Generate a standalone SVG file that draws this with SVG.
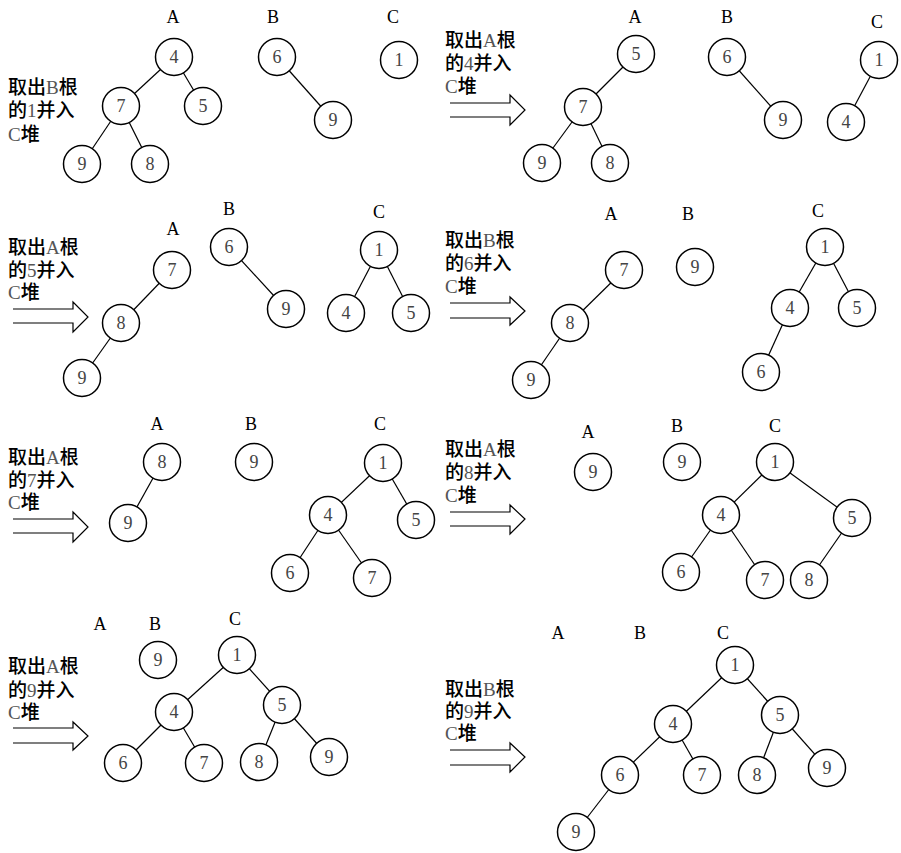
<svg xmlns="http://www.w3.org/2000/svg" width="901" height="853" viewBox="0 0 901 853">
<style>
.n circle{fill:#fff;stroke:#000;stroke-width:1.5}
.n text{font-family:'Liberation Serif','Times New Roman','DejaVu Serif','Noto Serif',serif;font-size:18px;fill:#444;text-anchor:middle}
.lbl{font-family:'Liberation Serif','Times New Roman','DejaVu Serif','Noto Serif',serif;font-size:18px;fill:#000;text-anchor:middle}
.cap{font-family:'Noto Sans CJK SC','Noto Sans',sans-serif;font-size:19px;fill:#000;font-weight:500}
.cap tspan.l{font-family:'Liberation Serif','Times New Roman','DejaVu Serif',serif;fill:#555;font-weight:normal}
#edges line{stroke:#000;stroke-width:1.2}
.arr{fill:none;stroke:#000;stroke-width:1.2}
</style>
<rect width="901" height="853" fill="#fff"/>
<g id="edges">
<line x1="174" y1="57" x2="121" y2="106"/><line x1="174" y1="57" x2="203" y2="106"/>
<line x1="121" y1="106" x2="82" y2="164"/><line x1="121" y1="106" x2="150" y2="164"/>
<line x1="277" y1="57" x2="333" y2="120"/>
<line x1="636" y1="54" x2="583" y2="107"/><line x1="583" y1="107" x2="542" y2="163"/><line x1="583" y1="107" x2="610" y2="163"/>
<line x1="727" y1="57" x2="783" y2="120"/><line x1="879" y1="60" x2="846" y2="122"/>
<line x1="172" y1="270" x2="121" y2="323"/><line x1="121" y1="323" x2="82" y2="378"/>
<line x1="229" y1="247" x2="286" y2="309"/>
<line x1="379" y1="250" x2="346" y2="313"/><line x1="379" y1="250" x2="411" y2="313"/>
<line x1="624" y1="270" x2="570" y2="323"/><line x1="570" y1="323" x2="531" y2="380"/>
<line x1="825" y1="247" x2="790" y2="308"/><line x1="825" y1="247" x2="857" y2="308"/><line x1="790" y1="308" x2="761" y2="372"/>
<line x1="162" y1="462" x2="128" y2="523"/>
<line x1="383" y1="463" x2="328" y2="515"/><line x1="383" y1="463" x2="416" y2="520"/>
<line x1="328" y1="515" x2="290" y2="573"/><line x1="328" y1="515" x2="372" y2="578"/>
<line x1="775" y1="462" x2="721" y2="515"/><line x1="775" y1="462" x2="852" y2="518"/>
<line x1="721" y1="515" x2="681" y2="572"/><line x1="721" y1="515" x2="765" y2="580"/><line x1="852" y1="518" x2="809" y2="580"/>
<line x1="237" y1="655" x2="174" y2="712"/><line x1="237" y1="655" x2="282" y2="705"/>
<line x1="174" y1="712" x2="123" y2="763"/><line x1="174" y1="712" x2="204" y2="763"/>
<line x1="282" y1="705" x2="259" y2="762"/><line x1="282" y1="705" x2="329" y2="757"/>
<line x1="735" y1="665" x2="673" y2="724"/><line x1="735" y1="665" x2="780" y2="715"/>
<line x1="673" y1="724" x2="620" y2="775"/><line x1="673" y1="724" x2="702" y2="775"/>
<line x1="780" y1="715" x2="757" y2="775"/><line x1="780" y1="715" x2="827" y2="768"/>
<line x1="620" y1="775" x2="576" y2="832"/>
</g>
<g id="arrows">
<path class="arr" d="M450,103H510V95L525,110L510,125V117H450"/>
<path class="arr" d="M13,309H73V302L88,317L73,332V323H13"/>
<path class="arr" d="M450,303H510V297L525,311L510,325V318H450"/>
<path class="arr" d="M13,519H73V512L88,527L73,542V533H13"/>
<path class="arr" d="M450,512H510V505L525,519L510,534V526H450"/>
<path class="arr" d="M13,728H73V722L88,736L73,750V743H13"/>
<path class="arr" d="M450,750H510V743L525,757L510,772V765H450"/>
</g>
<g id="captions">
<text class="cap" x="8" y="94">取出<tspan class="l">B</tspan>根<tspan x="8" dy="23">的</tspan><tspan class="l">1</tspan>并入<tspan x="8" dy="24" class="l">C</tspan>堆</text>
<text class="cap" x="445" y="47">取出<tspan class="l">A</tspan>根<tspan x="445" dy="23">的</tspan><tspan class="l">4</tspan>并入<tspan x="445" dy="23" class="l">C</tspan>堆</text>
<text class="cap" x="8" y="254">取出<tspan class="l">A</tspan>根<tspan x="8" dy="23">的</tspan><tspan class="l">5</tspan>并入<tspan x="8" dy="22" class="l">C</tspan>堆</text>
<text class="cap" x="445" y="247">取出<tspan class="l">B</tspan>根<tspan x="445" dy="23">的</tspan><tspan class="l">6</tspan>并入<tspan x="445" dy="23" class="l">C</tspan>堆</text>
<text class="cap" x="8" y="464">取出<tspan class="l">A</tspan>根<tspan x="8" dy="23">的</tspan><tspan class="l">7</tspan>并入<tspan x="8" dy="22" class="l">C</tspan>堆</text>
<text class="cap" x="445" y="456">取出<tspan class="l">A</tspan>根<tspan x="445" dy="23">的</tspan><tspan class="l">8</tspan>并入<tspan x="445" dy="23" class="l">C</tspan>堆</text>
<text class="cap" x="8" y="673">取出<tspan class="l">A</tspan>根<tspan x="8" dy="24">的</tspan><tspan class="l">9</tspan>并入<tspan x="8" dy="22" class="l">C</tspan>堆</text>
<text class="cap" x="445" y="696">取出<tspan class="l">B</tspan>根<tspan x="445" dy="22">的</tspan><tspan class="l">9</tspan>并入<tspan x="445" dy="22" class="l">C</tspan>堆</text>
</g>
<g id="labels">
<text class="lbl" x="173" y="23">A</text><text class="lbl" x="273" y="23">B</text><text class="lbl" x="393" y="23">C</text>
<text class="lbl" x="635" y="23">A</text><text class="lbl" x="727" y="23">B</text><text class="lbl" x="877" y="28">C</text>
<text class="lbl" x="173" y="235">A</text><text class="lbl" x="229" y="215">B</text><text class="lbl" x="379" y="218">C</text>
<text class="lbl" x="611" y="220">A</text><text class="lbl" x="688" y="220">B</text><text class="lbl" x="818" y="217">C</text>
<text class="lbl" x="157" y="430">A</text><text class="lbl" x="251" y="430">B</text><text class="lbl" x="380" y="430">C</text>
<text class="lbl" x="588" y="438">A</text><text class="lbl" x="677" y="432">B</text><text class="lbl" x="775" y="432">C</text>
<text class="lbl" x="100" y="630">A</text><text class="lbl" x="155" y="630">B</text><text class="lbl" x="235" y="625">C</text>
<text class="lbl" x="558" y="639">A</text><text class="lbl" x="640" y="639">B</text><text class="lbl" x="723" y="639">C</text>
</g>
<g id="p1a4" class="n"><circle cx="174" cy="57" r="18.5"/><text x="174" y="63">4</text></g>
<g id="p1a7" class="n"><circle cx="121" cy="106" r="18.5"/><text x="121" y="112">7</text></g>
<g id="p1a5" class="n"><circle cx="203" cy="106" r="18.5"/><text x="203" y="112">5</text></g>
<g id="p1a9" class="n"><circle cx="82" cy="164" r="18.5"/><text x="82" y="170">9</text></g>
<g id="p1a8" class="n"><circle cx="150" cy="164" r="18.5"/><text x="150" y="170">8</text></g>
<g id="p1b6" class="n"><circle cx="277" cy="57" r="18.5"/><text x="277" y="63">6</text></g>
<g id="p1b9" class="n"><circle cx="333" cy="120" r="18.5"/><text x="333" y="126">9</text></g>
<g id="p1c1" class="n"><circle cx="399" cy="60" r="18.5"/><text x="399" y="66">1</text></g>
<g id="p2a5" class="n"><circle cx="636" cy="54" r="18.5"/><text x="636" y="60">5</text></g>
<g id="p2a7" class="n"><circle cx="583" cy="107" r="18.5"/><text x="583" y="113">7</text></g>
<g id="p2a9" class="n"><circle cx="542" cy="163" r="18.5"/><text x="542" y="169">9</text></g>
<g id="p2a8" class="n"><circle cx="610" cy="163" r="18.5"/><text x="610" y="169">8</text></g>
<g id="p2b6" class="n"><circle cx="727" cy="57" r="18.5"/><text x="727" y="63">6</text></g>
<g id="p2b9" class="n"><circle cx="783" cy="120" r="18.5"/><text x="783" y="126">9</text></g>
<g id="p2c1" class="n"><circle cx="879" cy="60" r="18.5"/><text x="879" y="66">1</text></g>
<g id="p2c4" class="n"><circle cx="846" cy="122" r="18.5"/><text x="846" y="128">4</text></g>
<g id="p3a7" class="n"><circle cx="172" cy="270" r="18.5"/><text x="172" y="276">7</text></g>
<g id="p3a8" class="n"><circle cx="121" cy="323" r="18.5"/><text x="121" y="329">8</text></g>
<g id="p3a9" class="n"><circle cx="82" cy="378" r="18.5"/><text x="82" y="384">9</text></g>
<g id="p3b6" class="n"><circle cx="229" cy="247" r="18.5"/><text x="229" y="253">6</text></g>
<g id="p3b9" class="n"><circle cx="286" cy="309" r="18.5"/><text x="286" y="315">9</text></g>
<g id="p3c1" class="n"><circle cx="379" cy="250" r="18.5"/><text x="379" y="256">1</text></g>
<g id="p3c4" class="n"><circle cx="346" cy="313" r="18.5"/><text x="346" y="319">4</text></g>
<g id="p3c5" class="n"><circle cx="411" cy="313" r="18.5"/><text x="411" y="319">5</text></g>
<g id="p4a7" class="n"><circle cx="624" cy="270" r="18.5"/><text x="624" y="276">7</text></g>
<g id="p4a8" class="n"><circle cx="570" cy="323" r="18.5"/><text x="570" y="329">8</text></g>
<g id="p4a9" class="n"><circle cx="531" cy="380" r="18.5"/><text x="531" y="386">9</text></g>
<g id="p4b9" class="n"><circle cx="695" cy="267" r="18.5"/><text x="695" y="273">9</text></g>
<g id="p4c1" class="n"><circle cx="825" cy="247" r="18.5"/><text x="825" y="253">1</text></g>
<g id="p4c4" class="n"><circle cx="790" cy="308" r="18.5"/><text x="790" y="314">4</text></g>
<g id="p4c5" class="n"><circle cx="857" cy="308" r="18.5"/><text x="857" y="314">5</text></g>
<g id="p4c6" class="n"><circle cx="761" cy="372" r="18.5"/><text x="761" y="378">6</text></g>
<g id="p5a8" class="n"><circle cx="162" cy="462" r="18.5"/><text x="162" y="468">8</text></g>
<g id="p5a9" class="n"><circle cx="128" cy="523" r="18.5"/><text x="128" y="529">9</text></g>
<g id="p5b9" class="n"><circle cx="254" cy="462" r="18.5"/><text x="254" y="468">9</text></g>
<g id="p5c1" class="n"><circle cx="383" cy="463" r="18.5"/><text x="383" y="469">1</text></g>
<g id="p5c4" class="n"><circle cx="328" cy="515" r="18.5"/><text x="328" y="521">4</text></g>
<g id="p5c5" class="n"><circle cx="416" cy="520" r="18.5"/><text x="416" y="526">5</text></g>
<g id="p5c6" class="n"><circle cx="290" cy="573" r="18.5"/><text x="290" y="579">6</text></g>
<g id="p5c7" class="n"><circle cx="372" cy="578" r="18.5"/><text x="372" y="584">7</text></g>
<g id="p6a9" class="n"><circle cx="593" cy="472" r="18.5"/><text x="593" y="478">9</text></g>
<g id="p6b9" class="n"><circle cx="682" cy="462" r="18.5"/><text x="682" y="468">9</text></g>
<g id="p6c1" class="n"><circle cx="775" cy="462" r="18.5"/><text x="775" y="468">1</text></g>
<g id="p6c4" class="n"><circle cx="721" cy="515" r="18.5"/><text x="721" y="521">4</text></g>
<g id="p6c5" class="n"><circle cx="852" cy="518" r="18.5"/><text x="852" y="524">5</text></g>
<g id="p6c6" class="n"><circle cx="681" cy="572" r="18.5"/><text x="681" y="578">6</text></g>
<g id="p6c7" class="n"><circle cx="765" cy="580" r="18.5"/><text x="765" y="586">7</text></g>
<g id="p6c8" class="n"><circle cx="809" cy="580" r="18.5"/><text x="809" y="586">8</text></g>
<g id="p7b9" class="n"><circle cx="158" cy="660" r="18.5"/><text x="158" y="666">9</text></g>
<g id="p7c1" class="n"><circle cx="237" cy="655" r="18.5"/><text x="237" y="661">1</text></g>
<g id="p7c4" class="n"><circle cx="174" cy="712" r="18.5"/><text x="174" y="718">4</text></g>
<g id="p7c5" class="n"><circle cx="282" cy="705" r="18.5"/><text x="282" y="711">5</text></g>
<g id="p7c6" class="n"><circle cx="123" cy="763" r="18.5"/><text x="123" y="769">6</text></g>
<g id="p7c7" class="n"><circle cx="204" cy="763" r="18.5"/><text x="204" y="769">7</text></g>
<g id="p7c8" class="n"><circle cx="259" cy="762" r="18.5"/><text x="259" y="768">8</text></g>
<g id="p7c9" class="n"><circle cx="329" cy="757" r="18.5"/><text x="329" y="763">9</text></g>
<g id="p8c1" class="n"><circle cx="735" cy="665" r="18.5"/><text x="735" y="671">1</text></g>
<g id="p8c4" class="n"><circle cx="673" cy="724" r="18.5"/><text x="673" y="730">4</text></g>
<g id="p8c5" class="n"><circle cx="780" cy="715" r="18.5"/><text x="780" y="721">5</text></g>
<g id="p8c6" class="n"><circle cx="620" cy="775" r="18.5"/><text x="620" y="781">6</text></g>
<g id="p8c7" class="n"><circle cx="702" cy="775" r="18.5"/><text x="702" y="781">7</text></g>
<g id="p8c8" class="n"><circle cx="757" cy="775" r="18.5"/><text x="757" y="781">8</text></g>
<g id="p8c9" class="n"><circle cx="827" cy="768" r="18.5"/><text x="827" y="774">9</text></g>
<g id="p8c9b" class="n"><circle cx="576" cy="832" r="18.5"/><text x="576" y="838">9</text></g>
</svg>
